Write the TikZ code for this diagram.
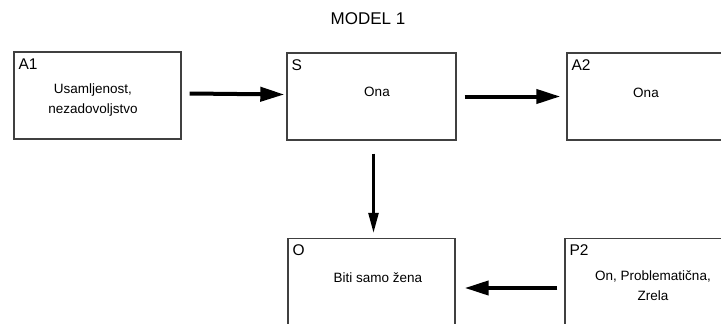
\documentclass[tikz,border=0pt]{standalone}
\usepackage{fontspec}
\setmainfont{Liberation Sans}
\usetikzlibrary{arrows.meta}
\begin{document}
\begin{tikzpicture}[x=1pt,y=-1pt,
  box/.style={draw=black!75,line width=1.4pt,minimum width=167pt,minimum height=87pt,inner sep=0pt},
  tag/.style={anchor=north west,inner sep=0pt,font=\fontsize{15.5}{15.5}\selectfont},
  body/.style={anchor=north,inner sep=0pt,align=center,font=\fontsize{13.5}{20}\selectfont},
  bigarrow/.style={line width=4pt,-{Triangle[length=24pt,width=14pt]}},
  thinarrow/.style={line width=2.6pt,-{Triangle[length=20pt,width=10pt]}}]
\useasboundingbox (0,0) rectangle (721,324);
\clip (0,0) rectangle (721,324);
\fill[white] (0,0) rectangle (721,324);

\node[font=\fontsize{17}{17}\selectfont] (title) at (368,19) {MODEL 1};

% boxes
\node[box] (A1) at (97.5,95.5) {};
\node[box,minimum width=169pt] (S) at (371.5,96.5) {};
\node[box,minimum width=169pt] (A2) at (651.5,96.5) {};
\node[box] (O) at (371.5,282) {};
\node[box,minimum width=169pt] (P2) at (649.5,282) {};

% corner labels
\node[tag] (tA1) at ([xshift=5pt,yshift=-7pt]A1.north west) {A1};
\node[tag] (tS) at ([xshift=5pt,yshift=-7pt]S.north west) {S};
\node[tag] (tA2) at ([xshift=5pt,yshift=-7pt]A2.north west) {A2};
\node[tag] (tO) at ([xshift=5pt,yshift=-7pt]O.north west) {O};
\node[tag] (tP2) at ([xshift=5pt,yshift=-7pt]P2.north west) {P2};

% contents
\node[body] (cA1) at (93,84) {Usamljenost,\\nezadovoljstvo};
\node[body] (cS) at (377,87) {Ona};
\node[body] (cA2) at (646,88) {Ona};
\node[body] (cO) at (378,272) {Biti samo žena};
\node[body] (cP2) at (653,270) {On, Problematična,\\Zrela};

% connectors
\draw[bigarrow] ([xshift=8pt,yshift=2pt]A1.east) -- ([xshift=-2pt,yshift=2pt]S.west);
\draw[bigarrow] ([xshift=8pt]S.east) -- ([xshift=-6pt]A2.west);
\draw[thinarrow] ([xshift=2pt,yshift=-13pt]S.south) -- ([xshift=2pt,yshift=5pt]O.north);
\draw[bigarrow] ([xshift=-7pt,yshift=-6pt]P2.west) -- ([xshift=9pt,yshift=-6pt]O.east);
\end{tikzpicture}
\end{document}
